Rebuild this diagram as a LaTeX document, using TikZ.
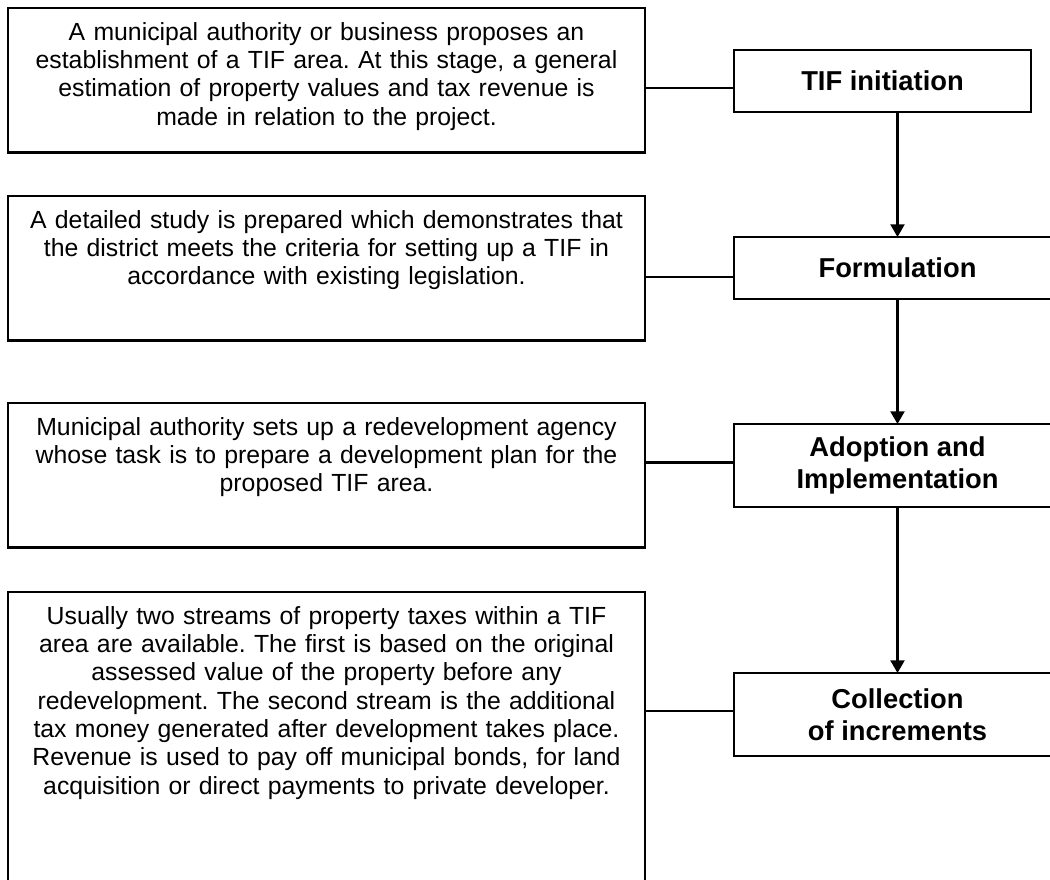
\documentclass[tikz,border=0pt]{standalone}
\usepackage{fontspec}
\setmainfont{Liberation Sans}
\usetikzlibrary{arrows.meta}

\begin{document}
\frenchspacing
\begin{tikzpicture}[
  x=0.75pt, y=-0.75pt,
  desc/.style={draw, line width=2pt, outer sep=0pt, anchor=north west, minimum width=477.75pt, text width=460pt, align=center, inner xsep=8pt, inner ysep=11pt, text height=13.3pt, text depth=73.2pt, font=\fontsize{18.6}{21.2}\selectfont},
  phase/.style={draw, line width=2pt, outer sep=0pt, anchor=north west, minimum width=245.25pt, minimum height=62.25pt, align=center, font=\fontsize{20.5}{23.8}\selectfont\bfseries},
  link/.style={line width=1.6pt},
  arrow/.style={-{Triangle[width=10.5pt, length=9.5pt]}, line width=1.6pt}
]
\clip (0,0) rectangle (1050,879);

% Descriptions
\node[desc] (d1) at (8,8) {A municipal authority or business proposes an\\establishment of a TIF area. At this stage, a general\\estimation of property values and tax revenue is\\made in relation to the project.};
\node[desc] (d2) at (8,196) {A detailed study is prepared which demonstrates that\\the district meets the criteria for setting up a TIF in\\accordance with existing legislation.};
\node[desc] (d3) at (8,403) {Municipal authority sets up a redevelopment agency\\whose task is to prepare a development plan for the\\proposed TIF area.};
\node[desc, text depth=196pt] (d4) at (8,592) {Usually two streams of property taxes within a TIF\\area are available. The first is based on the original\\assessed value of the property before any\\redevelopment. The second stream is the additional\\tax money generated after development takes place.\\Revenue is used to pay off municipal bonds, for land\\acquisition or direct payments to private developer.};

% Phases
\node[phase, minimum width=222.75pt, minimum height=46.5pt] (tif) at (734,50) {TIF initiation};
\node[phase, minimum height=46.5pt] (form) at (734,237) {Formulation};
\node[phase] (adopt) at (734,424) {Adoption and\\Implementation};
\node[phase] (collect) at (734,673) {Collection\\of increments};

% Links
\draw[link] ([yshift=-5.5pt]tif.west) -- ([yshift=-5.5pt]tif.west -| d1.east);
\draw[link] ([yshift=-6.5pt]form.west) -- ([yshift=-6.5pt]form.west -| d2.east);
\draw[link] ([yshift=2.3pt]adopt.west) -- ([yshift=2.3pt]adopt.west -| d3.east);
\draw[link] ([yshift=2.5pt]collect.west) -- ([yshift=2.5pt]collect.west -| d4.east);

% Arrows
\foreach \a/\b in {tif/form, form/adopt, adopt/collect}
  \draw[arrow] (\a.south -| \b.north) -- (\b.north);

\end{tikzpicture}
\end{document}
